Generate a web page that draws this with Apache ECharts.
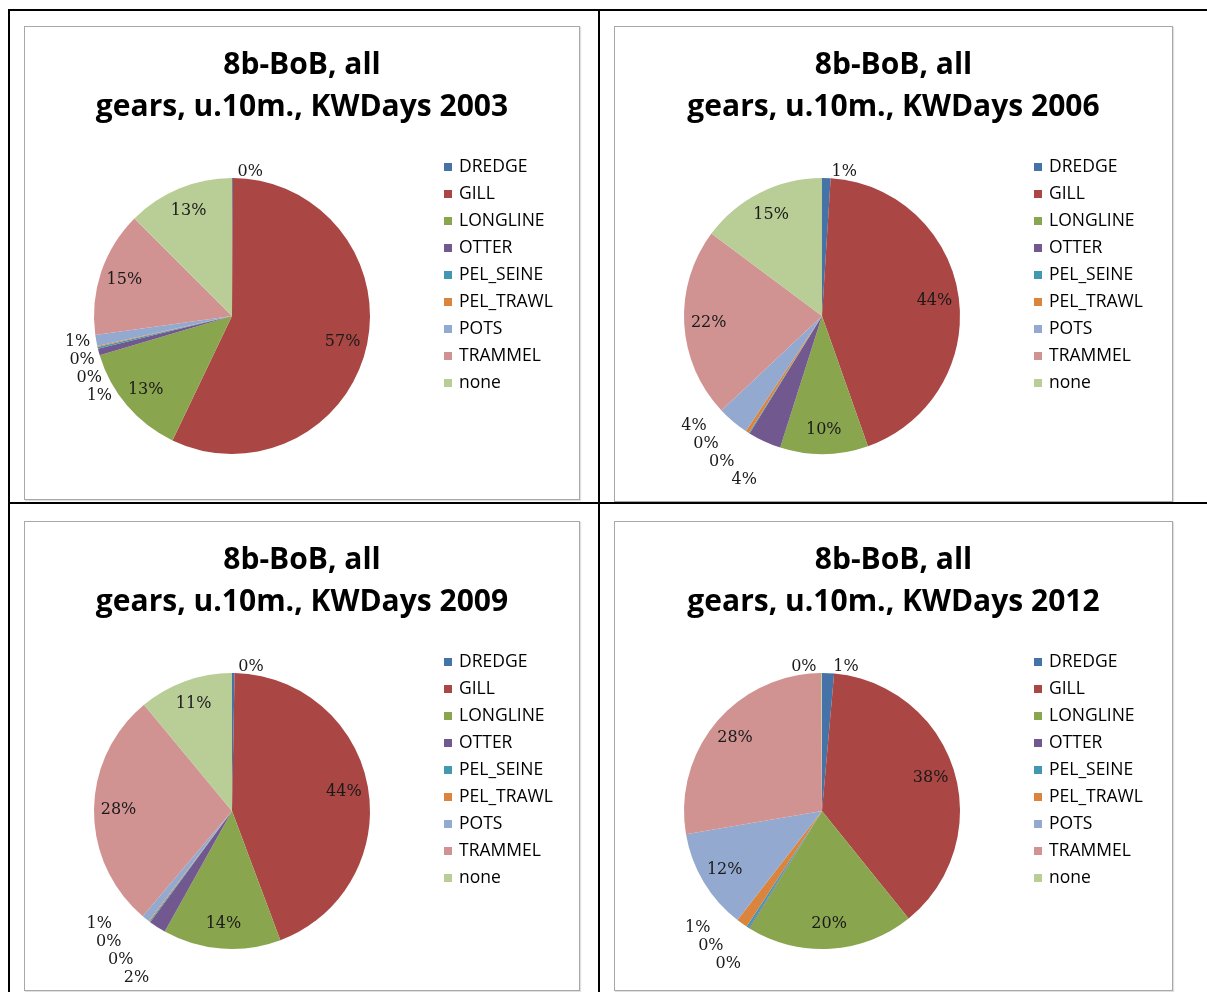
<!DOCTYPE html>
<html>
<head>
<meta charset="utf-8">
<title>8b-BoB KWDays</title>
<script src="https://cdn.jsdelivr.net/npm/echarts@6/dist/echarts.min.js"></script>
<style>
	body {margin: 0; background: #fff;}
	#page {position: relative; width: 1207px; height: 992px; overflow: hidden;}
	.rule {position: absolute; background: #000;}
	.box {position: absolute; border: 1px solid #a8a8a8; box-shadow: 1px 1px 1px rgba(0,0,0,0.12); background: #fff; box-sizing: border-box;}
</style>
</head>
<body>
<div id="page">
	<!-- table grid lines -->
	<div class="rule" style="left:8px;top:9px;width:1199px;height:2px;"></div>
	<div class="rule" style="left:8px;top:9px;width:2px;height:983px;"></div>
	<div class="rule" style="left:598px;top:9px;width:2px;height:983px;"></div>
	<div class="rule" style="left:8px;top:502px;width:1199px;height:2px;"></div>

	<div id="pie2003" class="box" style="left:24px;top:26px;width:556px;height:474px;"></div>
	<div id="pie2006" class="box" style="left:614px;top:26px;width:559px;height:476px;"></div>
	<div id="pie2009" class="box" style="left:24px;top:521px;width:556px;height:470px;"></div>
	<div id="pie2012" class="box" style="left:614px;top:521px;width:559px;height:470px;"></div>
</div>
<script>
// gear categories, same order in every year
var GEARS = ['DREDGE', 'GILL', 'LONGLINE', 'OTTER', 'PEL_SEINE', 'PEL_TRAWL', 'POTS', 'TRAMMEL', 'none'];
var YEARS = ['2003', '2006', '2009', '2012'];

// share of KWDays per gear (%)
var KW2003 = [0.1, 57.0, 13.3, 0.8, 0.2, 0.1, 1.3, 14.7, 12.5];
var KW2006 = [1.0, 43.6, 10.3, 3.9, 0.1, 0.4, 3.7, 22.2, 14.8];
var KW2009 = [0.3, 44.0, 13.8, 2.0, 0.1, 0.1, 0.9, 27.8, 11.0];
var KW2012 = [1.4, 37.8, 19.6, 0.1, 0.3, 1.3, 11.8, 27.6, 0.1];

// excel 2007 palette
var COLORS = ['#4572A7', '#AA4643', '#89A54E', '#71588F', '#4198AF', '#DB843D', '#93A9CF', '#D19392', '#B9CD96'];

function makeOption(year, values){
	var slices = [];
	var labels = [];
	for (var i=0; i<GEARS.length; i++){
		slices.push({name: GEARS[i], value: values[i]});
		// big slices get the label inside, small ones outside
		labels.push({
			name: GEARS[i],
			value: values[i],
			label: {position: values[i] >= 5 ? 'inside' : 'outside'}
		});
	}
	return {
		animation: false,
		color: COLORS,
		title: {
			text: '8b-BoB, all\ngears, u.10m., KWDays ' + year,
			left: 'center',
			top: 17,
			padding: 0,
			textStyle: {
				fontFamily: 'Open Sans',
				fontWeight: 'bold',
				fontSize: 30,
				lineHeight: 42,
				color: '#000'
			}
		},
		legend: {
			orient: 'vertical',
			left: 419,
			top: 131,
			padding: 0,
			icon: 'rect',
			itemWidth: 8,
			itemHeight: 8,
			itemGap: 9,
			data: GEARS,
			textStyle: {
				fontFamily: 'Open Sans',
				fontSize: 17.5,
				lineHeight: 18,
				color: '#000',
				padding: [0, 0, 0, 2]
			}
		},
		series: [{
			// the coloured pie
			type: 'pie',
			center: [207, 289],
			radius: 138,
			startAngle: 90,
			clockwise: true,
			label: {show: false},
			labelLine: {show: false},
			emphasis: {disabled: true},
			data: slices
		},
		{
			// invisible ring, only carries the percent labels (inside ones sit at 0.8r)
			type: 'pie',
			center: [207, 289],
			radius: [83, 138],
			startAngle: 90,
			clockwise: true,
			silent: true,
			itemStyle: {color: 'rgba(0,0,0,0)'},
			emphasis: {disabled: true},
			avoidLabelOverlap: true,
			labelLine: {show: false, length: 6, length2: 0},
			label: {
				show: true,
				formatter: function(p){ return Math.round(p.percent) + '%'; },
				fontFamily: 'DejaVu Serif',
				fontSize: 16,
				color: '#1a1a1a'
			},
			data: labels
		}]
	};
}

var yearData = [KW2003, KW2006, KW2009, KW2012];
for (var ind=0; ind<YEARS.length; ind++){
	var chart = echarts.init(document.getElementById('pie' + YEARS[ind]));
	chart.setOption(makeOption(YEARS[ind], yearData[ind]));
}
</script>
</body>
</html>
